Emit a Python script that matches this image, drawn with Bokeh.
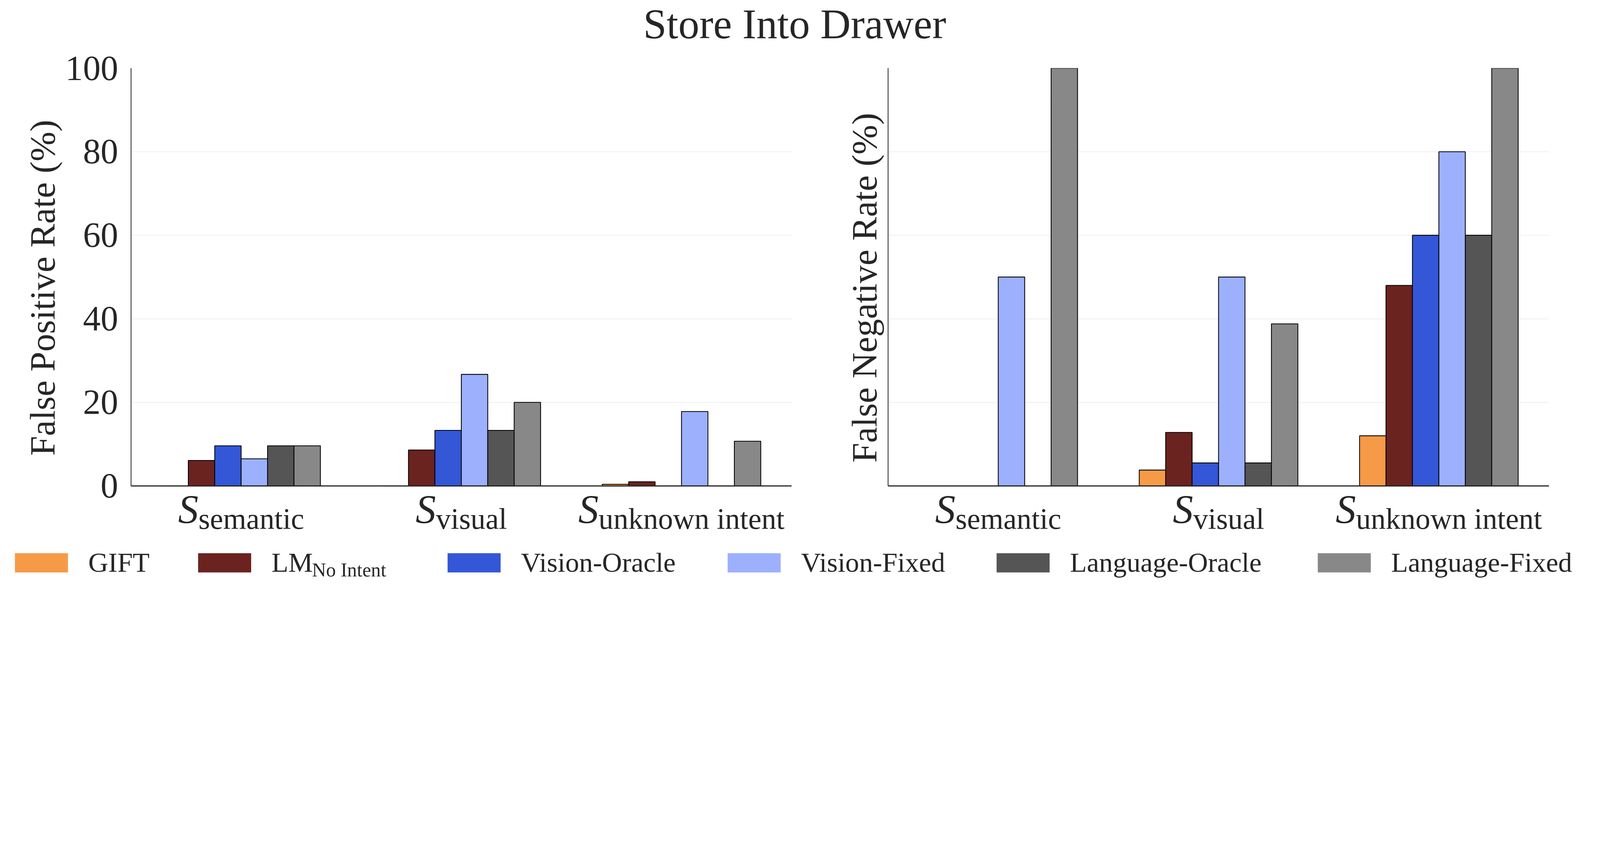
import numpy as np
from bokeh.plotting import figure
from bokeh.layouts import column, row
from bokeh.models import Range1d, FixedTicker, Span
from bokeh.core.properties import value
from bokeh.embed import file_html
from bokeh.resources import INLINE

# data
subsets = ["semantic", "visual", "unknown intent"]
methods = ["GIFT", "LM", "Vision-Oracle", "Vision-Fixed", "Language-Oracle", "Language-Fixed"]
colors = ["#F69A48", "#6B2320", "#3357D6", "#9DB0FE", "#555555", "#888888"]

# false positive rate (%)
fpr_gift = [0.0, 0.0, 0.4]
fpr_lm = [6.1, 8.6, 1.0]
fpr_vision_oracle = [9.6, 13.3, 0.0]
fpr_vision_fixed = [6.5, 26.7, 17.8]
fpr_language_oracle = [9.6, 13.3, 0.0]
fpr_language_fixed = [9.6, 20.0, 10.7]

# false negative rate (%)
fnr_gift = [0.0, 3.8, 12.0]
fnr_lm = [0.0, 12.8, 48.0]
fnr_vision_oracle = [0.0, 5.5, 60.0]
fnr_vision_fixed = [50.0, 50.0, 80.0]
fnr_language_oracle = [0.0, 5.5, 60.0]
fnr_language_fixed = [100.0, 38.8, 100.0]

yticks = [0, 20, 40, 60, 80, 100]

# the page renders ~1.44x larger than css px, so sizes below are given in
# screenshot pixels and converted
K = 1.4436
SC = 1 / K


def px(v):
    return v * SC


def ipx(v):
    return int(round(v * SC))


def fs(v):
    return "%.1fpx" % (v * SC)


FONT = "Liberation Serif"
TXT = "#262626"
BAR_W = 0.12
MID = 0.34                 # baseline -> middle shift (em)
SUB_W = [391, 263, 688]    # approx widths of subscripts (screenshot px)
S_W = 75

MARGIN = 8 * K
RIGHT_END = 5893
TOP_MAIN = 188             # page y where the panels start
H_HEAD = TOP_MAIN - MARGIN
FRAME_TOP, ZERO_Y, FRAME_BOT = 263, 1807, 1995
H_MAIN = FRAME_BOT - TOP_MAIN
H_LEG = 210
PPU = (ZERO_Y - FRAME_TOP) / 100.0     # pixels per percent
Y_MIN = -(FRAME_BOT - ZERO_Y) / PPU
FULL_W = RIGHT_END - MARGIN

# column edges (page x): label | left panel | label | right panel
E0, E1, E2, E3, E4 = MARGIN, 248, 3000, 3285, RIGHT_END


def bare(width, height, x_range, y_range):
    f = figure(width=ipx(width), height=ipx(height), x_range=x_range, y_range=y_range,
               x_axis_location=None, y_axis_location=None, min_border=0,
               toolbar_location=None, output_backend="svg")
    f.outline_line_color = None
    f.grid.visible = False
    return f


def ylabel_strip(x0, x1, text, base_x):
    # rotated axis title, centred on the 0-100 part of the axis
    f = bare(x1 - x0, H_MAIN, Range1d(x0, x1), Range1d(FRAME_BOT, TOP_MAIN))
    f.text(x=[base_x - MID * 132], y=[(FRAME_TOP + ZERO_Y) / 2], text=[text], angle=np.pi / 2,
           text_font=value(FONT), text_font_size=value(fs(132)),
           text_baseline=value("middle"), text_align=value("center"), text_color=TXT)
    return f


def panel(series, width, left, right, show_ticks):
    p = figure(width=ipx(width), height=ipx(H_MAIN), x_range=Range1d(-0.5, 2.5),
               y_range=Range1d(Y_MIN, 100), x_axis_location=None,
               toolbar_location=None, output_backend="svg",
               min_border_left=left, min_border_right=right,
               min_border_top=ipx(FRAME_TOP - TOP_MAIN), min_border_bottom=0)
    p.outline_line_color = None
    p.xgrid.visible = False
    p.ygrid.ticker = FixedTicker(ticks=yticks)
    p.ygrid.grid_line_color = "#EFEFEF"
    p.ygrid.grid_line_width = px(3)

    xs = np.arange(len(subsets))
    for j, vals in enumerate(series):
        p.vbar(x=xs + (j - 2.5) * BAR_W, top=vals, width=BAR_W,
               fill_color=colors[j], line_color="black", line_width=px(3))

    # baseline (x axis line)
    p.add_layout(Span(location=0, dimension="width", line_color=TXT, line_width=px(4.5)))

    p.yaxis.bounds = (0, 100)
    p.yaxis.ticker = FixedTicker(ticks=yticks if show_ticks else [])
    p.yaxis.axis_line_width = px(3)
    p.yaxis.axis_line_color = TXT
    p.yaxis.major_tick_line_color = None
    p.yaxis.minor_tick_line_color = None
    p.yaxis.major_tick_out = 0
    p.yaxis.major_tick_in = 0
    p.yaxis.major_label_text_font = FONT
    p.yaxis.major_label_text_font_size = fs(130)
    p.yaxis.major_label_text_color = TXT
    p.yaxis.major_label_standoff = ipx(47) if show_ticks else 0

    # category labels: script S with a subscript, below the baseline
    tot = np.array([S_W + w for w in SUB_W])
    s_base, sub_base = 1943, 1965
    p.text(x=xs, y=-(s_base - MID * 150 - ZERO_Y) / PPU, text=["S"] * len(subsets),
           x_offset=px(-tot / 2), text_font=value(FONT), text_font_style=value("italic"),
           text_font_size=value(fs(150)), text_baseline=value("middle"),
           text_align=value("left"), text_color=TXT)
    p.text(x=xs, y=-(sub_base - MID * 110 - ZERO_Y) / PPU, text=subsets,
           x_offset=px(-tot / 2 + S_W), text_font=value(FONT), text_font_size=value(fs(110)),
           text_baseline=value("middle"), text_align=value("left"), text_color=TXT)
    return p


lab1 = ylabel_strip(E0, E1, "False Positive Rate (%)", 214)
p1 = panel([fpr_gift, fpr_lm, fpr_vision_oracle, fpr_vision_fixed, fpr_language_oracle, fpr_language_fixed],
           E2 - E1, ipx(494 - E1), ipx(E2 - 2937), True)
lab2 = ylabel_strip(E2, E3, "False Negative Rate (%)", 3252)
p2 = panel([fnr_gift, fnr_lm, fnr_vision_oracle, fnr_vision_fixed, fnr_language_oracle, fnr_language_fixed],
           E4 - E3, ipx(3293 - E3), ipx(E4 - 5736), False)

# title
title_base = 152 - MARGIN
head = bare(FULL_W, H_HEAD, Range1d(0, FULL_W), Range1d(0, H_HEAD))
head.text(x=[(2948 - MARGIN)], y=[H_HEAD - title_base + MID * 155], text=["Store Into Drawer"],
          text_font=value(FONT), text_font_size=value(fs(155)),
          text_baseline=value("middle"), text_align=value("center"), text_color=TXT)

# legend row
leg_x = np.array([66, 743, 1665, 2700, 3694, 4881]) - MARGIN
leg = bare(FULL_W, H_LEG, Range1d(0, FULL_W), Range1d(0, H_LEG))
leg.quad(left=leg_x, right=leg_x + 196, bottom=78, top=149, fill_color=colors, line_color=None)
leg.text(x=leg_x + 271, y=81 + MID * 102, text=methods, text_font=value(FONT),
         text_font_size=value(fs(102)), text_baseline=value("middle"), text_color=TXT)
leg.text(x=[leg_x[1] + 271 + 150], y=[63 + MID * 72], text=["No Intent"], text_font=value(FONT),
         text_font_size=value(fs(72)), text_baseline=value("middle"), text_color=TXT)

layout = column(head, row(lab1, p1, lab2, p2), leg)
open("out.html", "w").write(file_html(layout, INLINE))
